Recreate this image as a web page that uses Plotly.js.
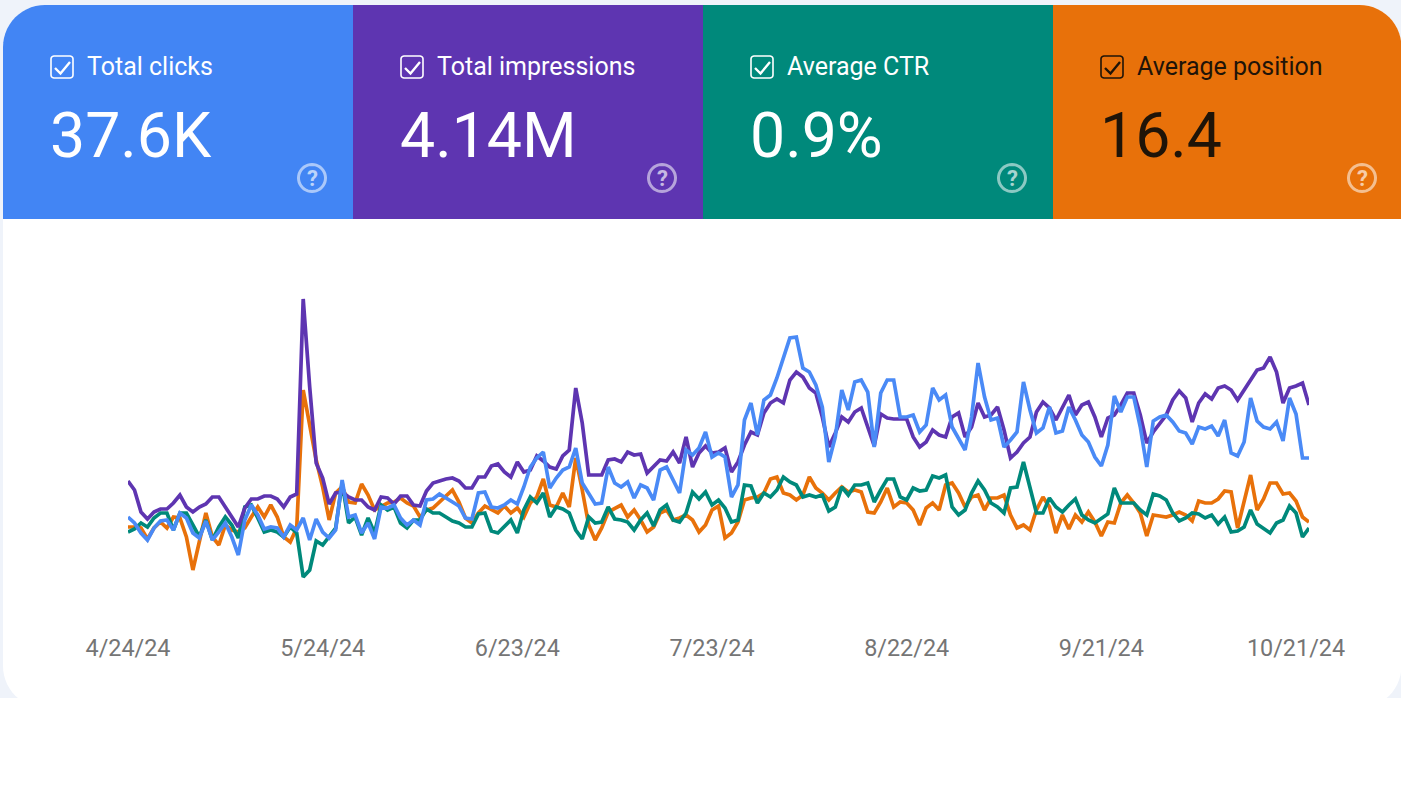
<!DOCTYPE html>
<html>
<head>
<meta charset="utf-8">
<script src="https://cdn.plot.ly/plotly-3.0.0.min.js"></script>
<style>html,body{margin:0;padding:0;background:#fff;overflow:hidden}#c{width:1401px;height:803px}</style>
</head>
<body>
<div id="c"></div>
<script>
const clicks = [103,97,87,80,92,99,100,90,107,102,87,82,99,80,88,97,83,65,100,115,105,91,93,92,83,95,90,102,80,101,88,82,90,140,103,105,87,97,81,113,112,115,102,95,100,95,120,121,126,122,118,114,102,101,127,128,113,112,115,120,116,133,153,162,168,132,142,150,153,172,137,127,116,117,153,137,133,138,122,135,132,120,150,153,140,127,170,165,172,188,163,167,163,123,135,200,217,185,220,225,242,263,282,283,252,248,235,213,158,183,230,210,238,240,228,173,227,240,240,203,203,205,188,195,232,220,225,193,182,170,203,257,223,200,202,173,180,188,238,210,187,192,213,187,189,213,200,185,178,163,154,175,224,208,223,223,193,153,199,203,205,198,189,187,176,193,191,194,184,200,167,164,178,222,199,193,191,198,179,222,206,162,162];
const impressions = [139,130,108,101,108,111,111,117,125,113,108,113,116,123,123,113,103,93,112,121,121,124,124,121,113,123,126,321,233,157,142,116,127,128,123,120,120,113,110,123,122,116,124,124,115,114,129,137,139,141,142,139,132,132,143,143,154,156,148,143,158,148,150,164,159,153,151,164,170,232,197,145,145,145,160,161,158,168,165,166,147,153,160,159,168,157,183,153,167,174,167,168,172,148,158,175,188,185,207,217,221,217,240,248,243,232,227,203,173,187,203,198,208,212,193,174,206,202,201,201,201,183,173,178,190,185,183,203,207,183,193,217,203,205,213,190,162,168,177,183,208,218,212,200,212,225,205,215,218,203,183,202,205,215,227,227,205,177,188,197,205,220,229,222,198,217,226,221,232,234,230,220,230,240,250,252,263,248,217,232,234,237,215];
const ctr = [88,91,97,93,102,107,107,90,107,107,95,83,100,80,93,103,95,82,113,115,102,88,90,88,83,93,87,43,50,79,75,83,92,137,97,103,85,102,87,115,110,113,97,92,100,100,111,107,107,103,99,97,93,93,106,107,89,87,93,100,87,110,123,117,127,103,113,111,107,90,81,103,97,98,113,101,100,98,90,100,107,94,110,115,100,98,107,128,121,128,115,120,112,98,100,135,134,117,127,123,130,143,138,135,123,125,123,125,109,113,133,125,135,135,137,118,130,141,141,123,120,132,129,130,144,142,145,113,105,110,127,139,130,117,113,107,132,133,158,133,107,107,122,113,108,115,121,105,100,97,102,106,132,117,117,117,110,105,126,124,120,107,99,102,107,106,102,105,96,103,88,89,93,110,96,92,87,97,100,114,107,83,92];
const position = [93,93,92,81,92,98,92,103,102,83,50,77,107,83,75,95,90,88,92,103,113,103,115,103,83,78,92,230,197,160,133,100,127,133,118,117,136,125,110,113,117,118,122,117,114,103,110,112,118,124,130,118,102,97,107,114,110,107,114,107,112,103,117,123,141,115,113,127,113,162,130,95,80,92,108,112,115,103,110,100,88,93,107,110,100,102,105,100,88,95,110,114,82,87,98,120,122,123,127,141,143,127,125,120,125,143,132,127,120,127,133,128,130,128,108,107,118,132,113,118,117,110,95,112,117,110,135,137,127,113,123,125,110,122,122,125,105,92,95,90,110,123,113,87,105,91,105,98,108,98,84,98,97,117,125,117,107,84,105,104,103,105,108,105,99,119,117,117,121,129,128,92,120,145,110,121,137,137,126,127,119,103,98];

const tickDates = ['2024-04-24','2024-05-24','2024-06-23','2024-07-23','2024-08-22','2024-09-21','2024-10-21'];
const tickLabels = ['4/24/24','5/24/24','6/23/24','7/23/24','8/22/24','9/21/24','10/21/24'];
const cardTitles = ['Total clicks','Total impressions','Average CTR','Average position'];
const cardValues = ['37.6K','4.14M','0.9%','16.4'];
const cardColors = ['#4285f4','#5e35b1','#00897b','#e8710a'];
const cardInk = ['#ffffff','#ffffff','#ffffff','#1f1408'];

const W = 1401, H = 803, PL = 128, PR = 1309, PT = 220, PB = 620;
const dates = clicks.map((_, i) => new Date(Date.UTC(2024, 3, 24 + i)).toISOString().slice(0, 10));
// "paper" spans the plot area, so pixels are converted relative to it
const px = x => (x - PL) / (PR - PL), py = y => 1 - (y - PT) / (PB - PT);
const P = (x, y) => px(x) + ' ' + py(y);
const line = (y, color, name) => ({x: dates, y, name, type: 'scatter', mode: 'lines', cliponaxis: false,
  hoverinfo: 'skip', line: {color, width: 3.7, shape: 'linear'}});

const traces = [
  line(position, '#e8710a', 'Average position'),
  line(ctr, '#00897b', 'Average CTR'),
  line(impressions, '#5e35b1', 'Total impressions'),
  line(clicks, '#4a8af6', 'Total clicks')
];

const rect = (x0, y0, x1, y1, fill) => ({type: 'rect', xref: 'paper', yref: 'paper', layer: 'below',
  x0: px(x0), x1: px(x1), y0: py(y1), y1: py(y0), fillcolor: fill, line: {width: 0}});
const pathS = (d, fill, stroke, w, op) => ({type: 'path', xref: 'paper', yref: 'paper', layer: 'below', path: d,
  fillcolor: fill, opacity: op === undefined ? 1 : op, line: {color: stroke, width: w}});

const R = 42;
const arcPts = (cx, cy, a0, a1) => {
  const n = 14, out = [];
  for (let i = 0; i <= n; i++) {
    const a = (a0 + (a1 - a0) * i / n) * Math.PI / 180;
    out.push(P(cx + R * Math.cos(a), cy + R * Math.sin(a)));
  }
  return out;
};
const roundedBody = (L, T, Rt, B) => 'M ' + [
  ...arcPts(L + R, T + R, 180, 270),
  ...arcPts(Rt - R, T + R, 270, 360),
  ...arcPts(Rt - R, B - R, 0, 90),
  ...arcPts(L + R, B - R, 90, 180)
].join(' L ') + ' Z';
const topCap = (L, Rt, T, B, left, right) => {
  const pts = [];
  if (left) pts.push(...arcPts(L + R, T + R, 180, 270)); else pts.push(P(L, T));
  if (right) pts.push(...arcPts(Rt - R, T + R, 270, 360)); else pts.push(P(Rt, T));
  pts.push(P(Rt, B), P(L, B));
  return 'M ' + pts.join(' L ') + ' Z';
};
const circle = (cx, cy, r) => {
  const out = [];
  for (let i = 0; i < 40; i++) { const a = i / 40 * 2 * Math.PI; out.push(P(cx + r * Math.cos(a), cy + r * Math.sin(a))); }
  return 'M ' + out.join(' L ') + ' Z';
};
const box = (x, y, s, r) => {
  const o = [];
  [[x + s - r, y + r, -90], [x + s - r, y + s - r, 0], [x + r, y + s - r, 90], [x + r, y + r, 180]].forEach(c => {
    for (let i = 0; i <= 5; i++) { const a = (c[2] + 18 * i) * Math.PI / 180; o.push(P(c[0] + r * Math.cos(a), c[1] + r * Math.sin(a))); }
  });
  return 'M ' + o.join(' L ') + ' Z';
};

const edges = [3, 353, 703, 1053, 1401];
const contentX = [50, 400, 750, 1100];
const shapes = [
  rect(0, 0, W, 698, '#eff3fa'),
  pathS(roundedBody(3, 5, W + 0.5, 708), '#ffffff', 'rgba(0,0,0,0)', 0),
  rect(0, 698, W, H, '#ffffff')
];
const annotations = [];
const note = (x, y, text, size, color, anchor, op, weight) => ({xref: 'paper', yref: 'paper', x: px(x), y: py(y), text,
  showarrow: false, xanchor: anchor, yanchor: 'middle', borderpad: 0, opacity: op === undefined ? 1 : op,
  font: {family: 'Roboto', size, color, weight: weight || 400}});

cardTitles.forEach((t, i) => {
  const x = contentX[i], ink = cardInk[i];
  shapes.push(pathS(topCap(edges[i], edges[i + 1] + (i === 3 ? 0.5 : 0), 5, 219, i === 0, i === 3), cardColors[i], 'rgba(0,0,0,0)', 0));
  shapes.push(pathS(box(x + 1, 56, 22, 3), 'rgba(0,0,0,0)', ink, 1.6));
  shapes.push(pathS('M ' + P(x + 5, 68) + ' L ' + P(x + 10.5, 73.5) + ' L ' + P(x + 20, 62), 'rgba(0,0,0,0)', ink, 2.4));
  shapes.push(pathS(circle(x + 262, 178, 13.5), 'rgba(0,0,0,0)', '#ffffff', 3, 0.55));
  annotations.push(note(x + 36, 67, t, 25, ink, 'left'));
  annotations.push(note(x - 1.5, 135, cardValues[i], 62.6, ink, 'left'));
  annotations.push(note(x + 262, 178, '?', 22, '#ffffff', 'center', 0.65, 700));
});

const layout = {
  width: W, height: H,
  margin: {l: PL, r: W - PR, t: PT, b: H - PB, autoexpand: false, pad: 0},
  paper_bgcolor: '#ffffff', plot_bgcolor: 'rgba(0,0,0,0)',
  showlegend: false,
  xaxis: {type: 'date', range: ['2024-04-24', '2024-10-23'], tickmode: 'array', tickvals: tickDates, ticktext: tickLabels,
    showgrid: false, zeroline: false, showline: false, ticks: '', ticklabelstandoff: 12, tickangle: 0,
    tickfont: {family: 'Roboto', size: 23.4, color: '#757575'}},
  yaxis: {range: [0, 400], visible: false, fixedrange: true},
  shapes, annotations
};
Plotly.newPlot('c', traces, layout, {displayModeBar: false, staticPlot: true});
</script>
</body>
</html>
